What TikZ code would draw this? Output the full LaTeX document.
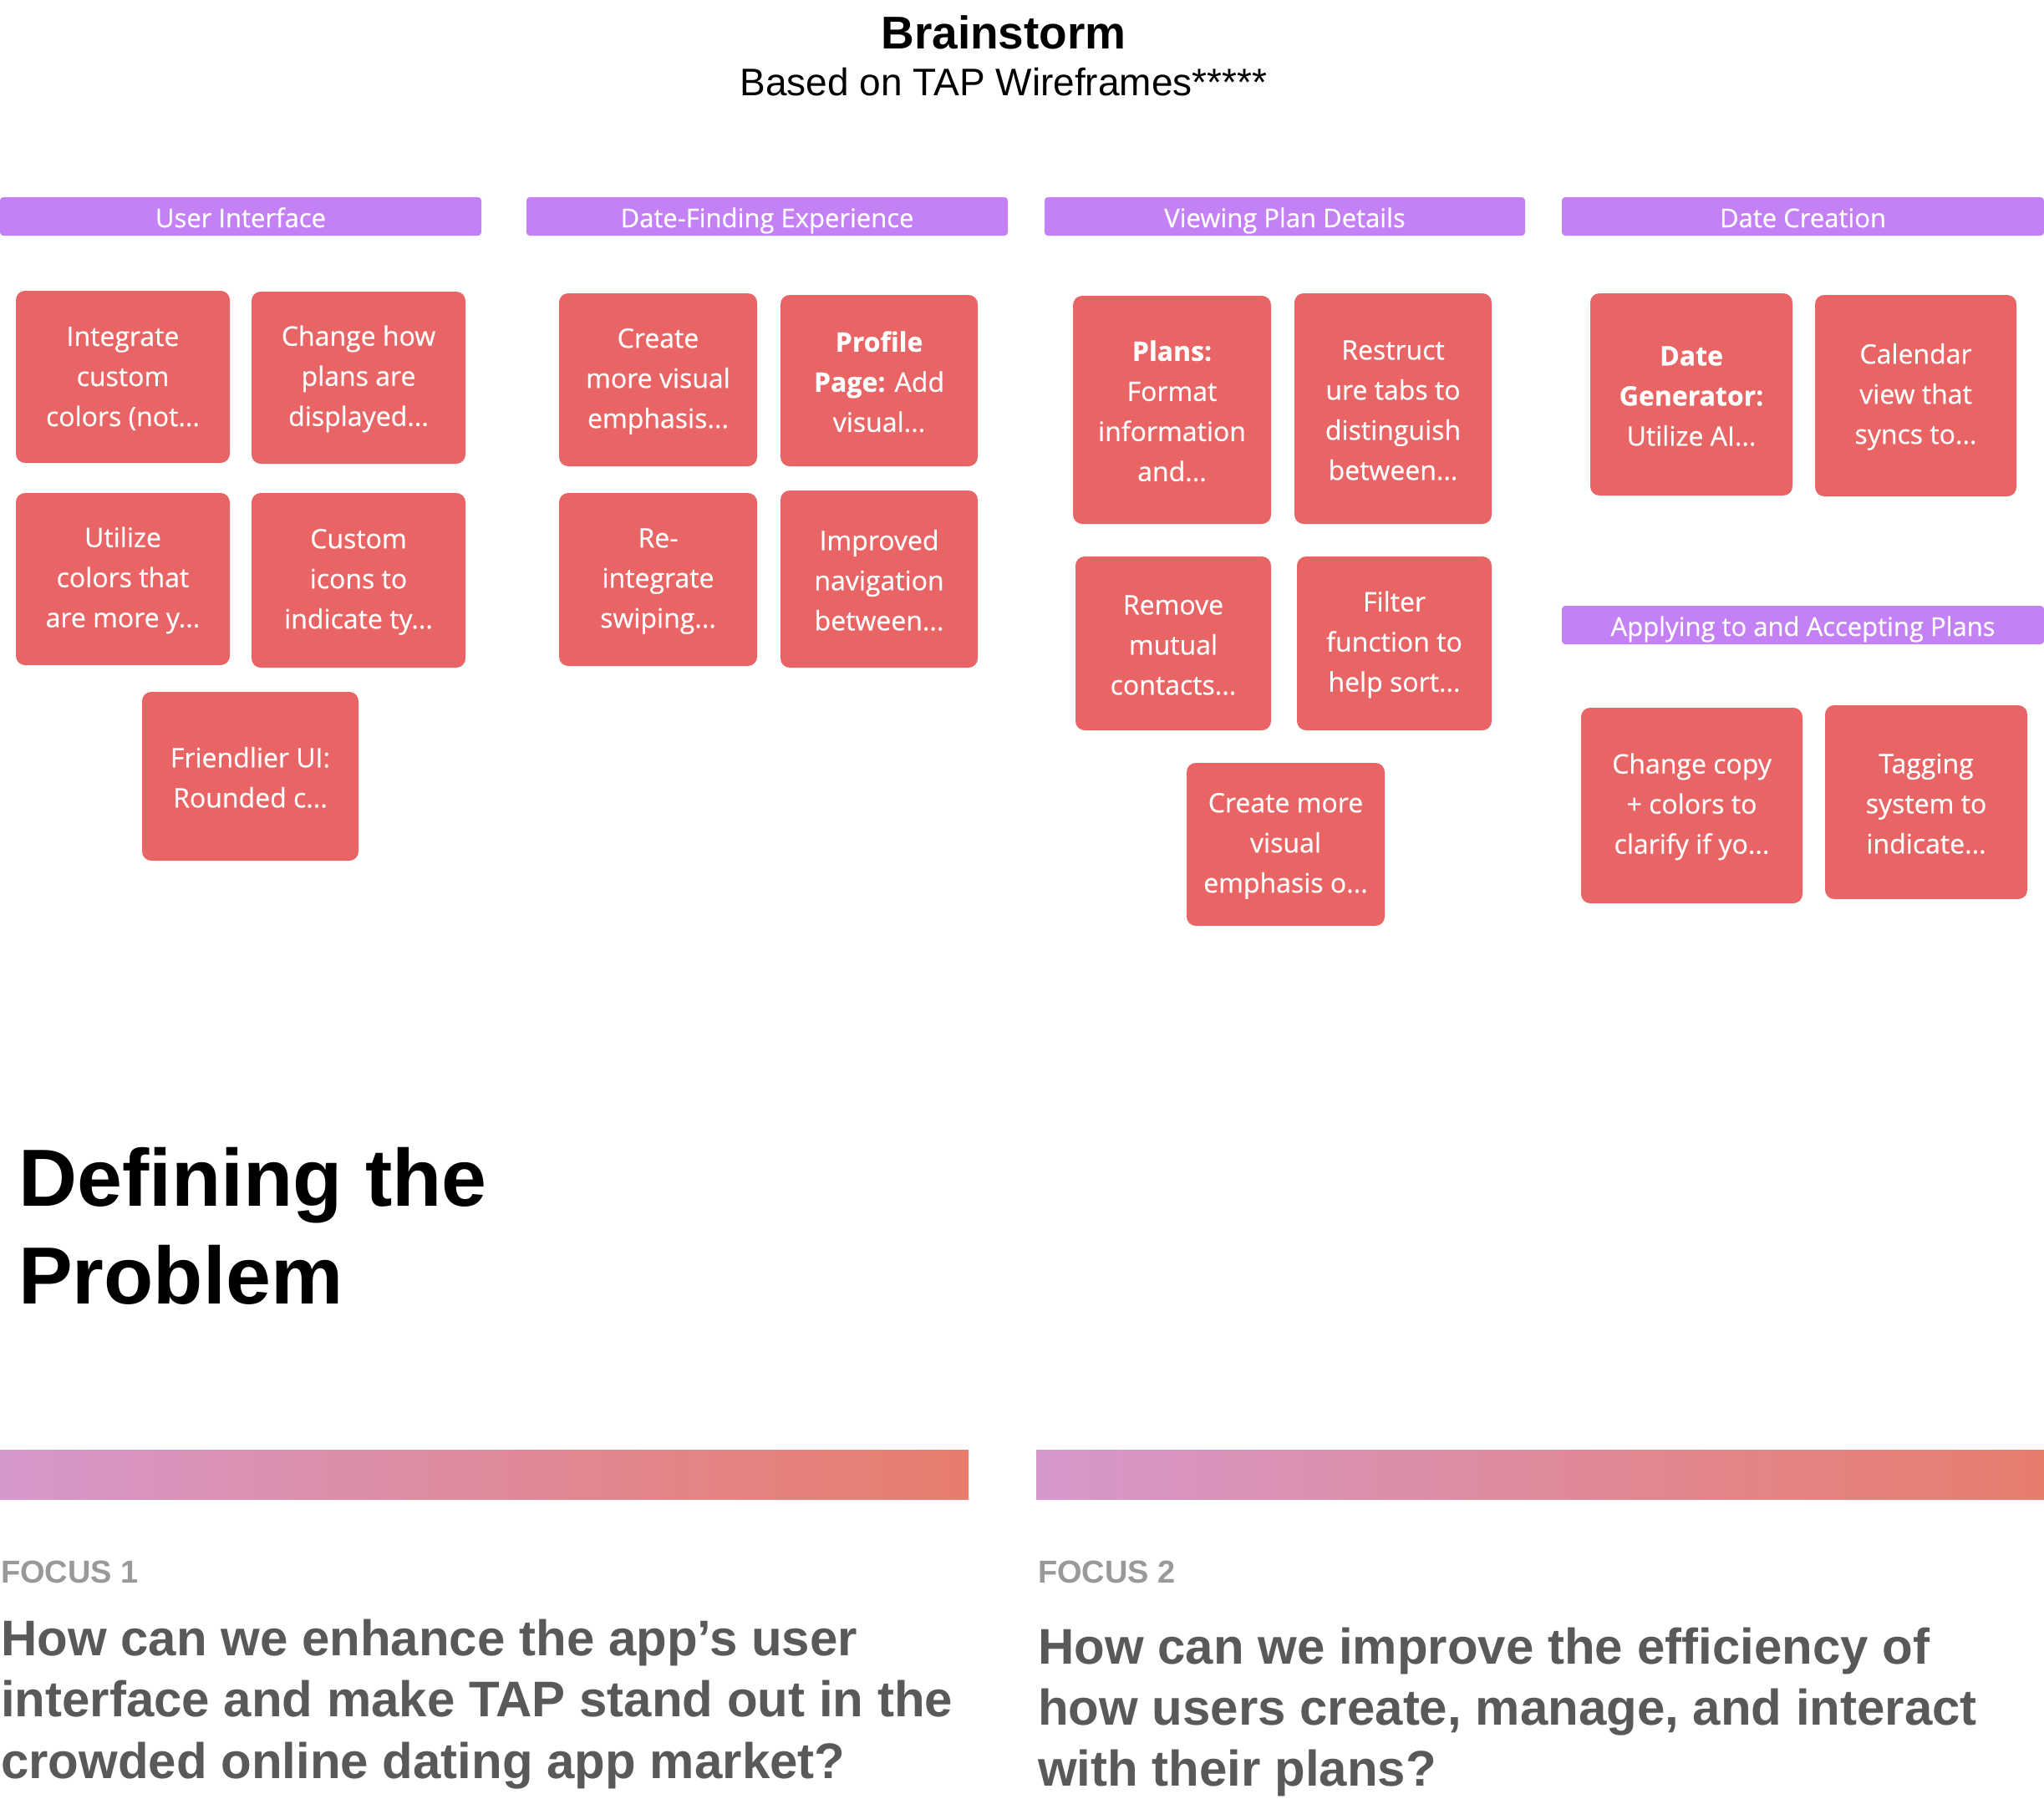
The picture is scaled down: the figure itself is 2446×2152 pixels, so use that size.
\documentclass[tikz,border=0pt]{standalone}
\usepackage{fontspec}
\setmainfont{Liberation Sans}
\newfontfamily\notefont{Open Sans}[FakeBold=0.6]

\definecolor{notered}{RGB}{233,100,100}
\definecolor{topicpurple}{RGB}{196,129,245}
\definecolor{bandleft}{RGB}{213,152,203}
\definecolor{bandright}{RGB}{232,124,107}
\definecolor{focusgray}{RGB}{153,153,153}
\definecolor{questiongray}{RGB}{89,89,89}

% sticky note: name, x1, y1, x2, y2, text (pixel coordinates, y downwards)
\newcommand\stickynote[6]{%
  \node[note, minimum width={#4-#2}, minimum height={#5-#3}] (#1)
    at ({(#2+#4)/2},{(#3+#5)/2}) {\rule{0pt}{27pt}#6};}
% category header bar: name, x1, y1, x2, y2, label
\newcommand\topicbar[6]{%
  \node[topic, minimum width={#4-#2}, minimum height={#5-#3}] (#1)
    at ({(#2+#4)/2},{(#3+#5)/2}) {#6};}

\tikzset{
  note/.style={fill=notered, rounded corners=11pt, text=white, align=center,
    inner sep=0pt, font=\notefont\fontsize{32}{48}\selectfont},
  topic/.style={fill=topicpurple, rounded corners=4pt, text=white,
    inner sep=0pt, text height=27pt, text depth=1pt,
    font=\notefont\fontsize{31}{36}\selectfont},
  line/.style={inner sep=0pt, anchor=base west},
  question/.style={line, text=questiongray, font=\bfseries\fontsize{60}{73}\selectfont},
  focuslabel/.style={line, text=focusgray, font=\bfseries\fontsize{38}{44}\selectfont},
  bigtitle/.style={line, font=\bfseries\fontsize{97}{117}\selectfont},
}

\begin{document}
\begin{tikzpicture}[x=1pt,y=-1pt]
\useasboundingbox[fill=white] (0,0) rectangle (2446,2152);

% heading
\node[inner sep=0pt, anchor=base, font=\bfseries\fontsize{55}{66}\selectfont] (title) at (1201,58) {Brainstorm};
\node[inner sep=0pt, anchor=base, font=\fontsize{46}{55}\selectfont] (subtitle) at (1201,114) {Based on TAP Wireframes*****};

% category bars
\topicbar{ui}{0}{236}{576}{282}{User Interface}
\topicbar{df}{630}{236}{1206}{282}{Date-Finding Experience}
\topicbar{vp}{1250}{236}{1825}{282}{Viewing Plan Details}
\topicbar{dc}{1869}{236}{2446}{282}{Date Creation}
\topicbar{ap}{1869}{725}{2446}{771}{Applying to and Accepting Plans}

% User Interface
\stickynote{ui1}{19}{348}{275}{554}{Integrate\\custom\\colors (not...}
\stickynote{ui2}{301}{349}{557}{555}{Change how\\plans are\\displayed...}
\stickynote{ui3}{19}{590}{275}{796}{Utilize\\colors that\\are more y...}
\stickynote{ui4}{301}{590}{557}{799}{Custom\\icons to\\indicate ty...}
\stickynote{ui5}{170}{828}{429}{1030}{Friendlier UI:\\Rounded c...}

% Date-Finding Experience
\stickynote{df1}{669}{351}{906}{558}{Create\\more visual\\emphasis...}
\stickynote{df2}{934}{353}{1170}{558}{\textbf{Profile}\\\textbf{Page:} Add\\visual...}
\stickynote{df3}{669}{590}{906}{797}{Re-\\integrate\\swiping...}
\stickynote{df4}{934}{587}{1170}{799}{Improved\\navigation\\between...}

% Viewing Plan Details
\stickynote{vp1}{1284}{354}{1521}{627}{\textbf{Plans:}\\Format\\information\\and...}
\stickynote{vp2}{1549}{351}{1785}{627}{Restruct\\ure tabs to\\distinguish\\between...}
\stickynote{vp3}{1287}{666}{1521}{874}{Remove\\mutual\\contacts...}
\stickynote{vp4}{1552}{666}{1785}{874}{Filter\\function to\\help sort...}
\stickynote{vp5}{1420}{913}{1657}{1108}{Create more\\visual\\emphasis o...}

% Date Creation
\stickynote{dc1}{1903}{351}{2145}{593}{\textbf{Date}\\\textbf{Generator:}\\Utilize AI...}
\stickynote{dc2}{2172}{353}{2413}{594}{Calendar\\view that\\syncs to...}

% Applying to and Accepting Plans
\stickynote{ap1}{1892}{847}{2157}{1081}{Change copy\\+ colors to\\clarify if yo...}
\stickynote{ap2}{2184}{844}{2426}{1076}{Tagging\\system to\\indicate...}

% section heading
\node[bigtitle] (def1) at (22,1443) {Defining the};
\node[bigtitle] (def2) at (22,1560) {Problem};

% gradient bands
\shade[left color=bandleft, right color=bandright] (0,1735) rectangle (1159,1794);
\shade[left color=bandleft, right color=bandright] (1240,1735) rectangle (2446,1794);

% focus 1
\node[focuslabel] (f1) at (1,1894) {FOCUS 1};
\node[question] (q1a) at (1,1981) {How can we enhance the app’s user};
\node[question] (q1b) at (1,2054) {interface and make TAP stand out in the};
\node[question] (q1c) at (1,2128) {crowded online dating app market?};

% focus 2
\node[focuslabel] (f2) at (1242,1894) {FOCUS 2};
\node[question] (q2a) at (1242,1991) {How can we improve the efficiency of};
\node[question] (q2b) at (1242,2064) {how users create, manage, and interact};
\node[question] (q2c) at (1242,2137) {with their plans?};
\end{tikzpicture}
\end{document}
